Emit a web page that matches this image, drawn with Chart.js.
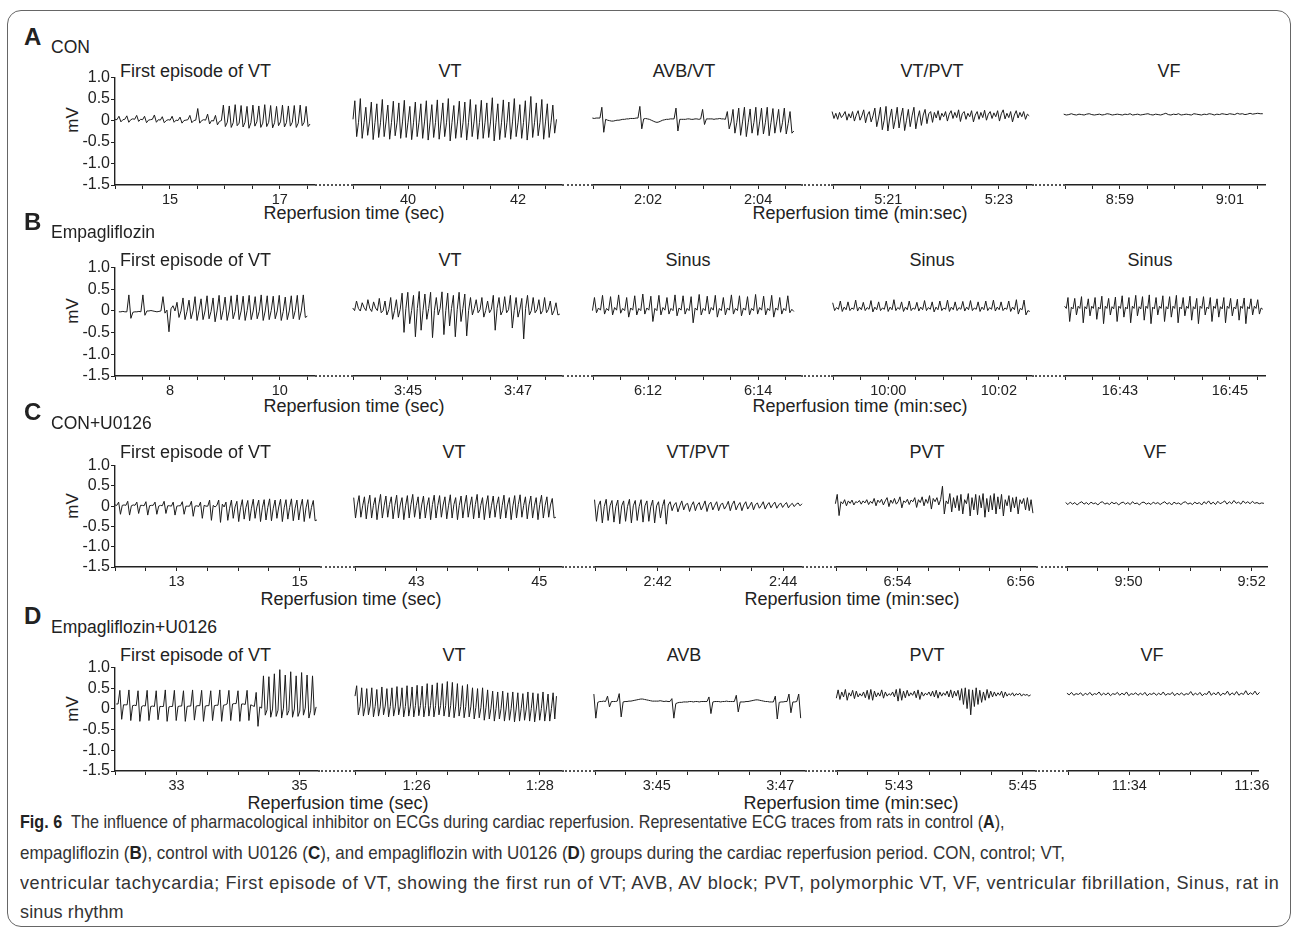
<!DOCTYPE html>
<html>
<head>
<meta charset="utf-8">
<title>Fig. 6 ECG traces</title>
<script src="https://cdn.jsdelivr.net/npm/chart.js@4.4.0/dist/chart.umd.min.js"></script>
<style>
  body { margin: 0; background: #fff; width: 1293px; height: 934px; position: relative; overflow: hidden;
         font-family: "Liberation Sans", Arial, sans-serif; color: #222; }
  .frame { position: absolute; left: 7px; top: 10px; width: 1282px; height: 915px;
           border: 1px solid #666; border-radius: 14px; }
  .txt { position: absolute; white-space: nowrap; line-height: 1; }
  .gap { position: absolute; height: 0; border-top: 2px dotted #555; }
  canvas { position: absolute; }
  .cap { position: absolute; left: 20px; white-space: nowrap; font-size: 19px; line-height: 1;
         transform-origin: left center; color: #333; }
  .cap b { color: #222; }
</style>
</head>
<body>
<div class="frame"></div>
<div id="root"></div>
<script>
// ---- data -------------------------------------------------------------

const PANELS = ['A', 'B', 'C', 'D'];
const GROUPS = ['CON', 'Empagliflozin', 'CON+U0126', 'Empagliflozin+U0126'];

const RHYTHMS_A = ['First episode of VT', 'VT', 'AVB/VT', 'VT/PVT', 'VF'];
const RHYTHMS_B = ['First episode of VT', 'VT', 'Sinus', 'Sinus', 'Sinus'];
const RHYTHMS_C = ['First episode of VT', 'VT', 'VT/PVT', 'PVT', 'VF'];
const RHYTHMS_D = ['First episode of VT', 'VT', 'AVB', 'PVT', 'VF'];

// visible stretch of each axis piece (seconds of reperfusion)
const WINDOWS_A = [[14, 17.64], [39, 42.8], [121, 124.78], [320, 323.6], [538, 541.64]];
const WINDOWS_B = [[7, 10.64], [224, 227.8], [371, 374.78], [599, 602.6], [1002, 1005.64]];
const WINDOWS_C = [[12, 15.33], [42, 45.37], [161, 164.3], [413, 416.25], [589, 592.25]];
const WINDOWS_D = [[32, 35.3], [85, 88.36], [224, 227.4], [342, 345.2], [693, 696.1]];

// recorded stretch of each trace (seconds), samples are spread evenly over it
const SPANS_A = [[14.0, 17.55], [39.0, 42.7], [120.85, 124.65], [319.95, 323.55], [537.93, 541.6]];
const SPANS_B = [[7.07, 10.5], [223.96, 227.76], [370.99, 374.65], [598.96, 602.56], [1001.9, 1005.6]];
const SPANS_C = [[12.0, 15.28], [41.95, 45.27], [160.9, 164.3], [412.93, 416.2], [588.94, 592.2]];
const SPANS_D = [[32.02, 35.27], [85.0, 88.27], [223.95, 227.33], [341.93, 345.13], [692.87, 696.2]];

// labelled ticks (seconds)
const LABELS_A = [[15, 17], [40, 42], [122, 124], [321, 323], [539, 541]];
const LABELS_B = [[8, 10], [225, 227], [372, 374], [600, 602], [1003, 1005]];
const LABELS_C = [[13, 15], [43, 45], [162, 164], [414, 416], [590, 592]];
const LABELS_D = [[33, 35], [86, 88], [225, 227], [343, 345], [694, 696]];

const Y_TICKS = [-1.5, -1.0, -0.5, 0, 0.5, 1.0];

// ECG samples, mV
const A_FIRST = [.03,.02,.1,-.03,.02, .03,.11,-.04,.02, .04,.03,.12,-.02,.03, .02,.1,-.05,.01, .02,.03,.13,-.04,.02,
  .01,.09,-.05,0, .02,.01,.1,-.04,.01, 0,.08,-.06,0, .01,.02,.12,-.05,0, .01,.28,-.06,0, .02,.01,.15,-.08,0,
  -.01,.12,-.1,-.02, 0,
  .36,-.14,-.04, .34,-.16,-.05, .37,-.12,-.06, .35,-.15,-.04, .33,-.18,-.05, .36,-.13,-.03, .34,-.16,-.06,
  .37,-.14,-.04, .35,-.17,-.05, .33,-.12,-.03, .36,-.15,-.05, .34,-.13,-.04, .35,-.16,-.06, .36,-.12,-.04, .33,-.14,-.08];
const A_VT = [.02, .45,-.38,-.05, .5,-.42,-.06, .3,-.35,-.04, .42,-.45,-.05, .38,-.4,-.06, .48,-.38,-.04, .35,-.44,-.05,
  .44,-.36,-.06, .4,-.42,-.04, .46,-.4,-.05, .32,-.45,-.06, .42,-.38,-.05, .38,-.42,-.04, .45,-.46,-.06, .36,-.4,-.05,
  .47,-.44,-.04, .4,-.38,-.06, .5,-.48,-.05, .34,-.42,-.04, .44,-.4,-.06, .42,-.46,-.05, .48,-.38,-.04, .36,-.44,-.05,
  .46,-.42,-.06, .4,-.4,-.04, .52,-.48,-.05, .38,-.45,-.06, .47,-.4,-.05, .42,-.44,-.04, .5,-.38,-.06, .36,-.42,-.05,
  .45,-.46,-.04, .55,-.4,-.06, .4,-.36,-.05, .48,-.44,-.04, .38,-.4,-.06, .35,-.3,.02];
const A_AVB_VT = [.05,.05,.06,.05,.05,.04,.05,.05,.05, .3,-.28,.02,
  0,-.01,-.02,-.02,-.01,0,0,.01,.02,.02,.03,.03,.04,.04,.04,.05,.05, .32,-.2,.03,
  .04,.03,.02,0,-.02,-.04,-.05,-.04,-.02,0,.01,.02,.02,.03,.03,.03, .28,-.25,.02,
  .02,.02,.02,.03,.03,.02,.02,.03,.03,.02,.03, .25,-.1,.03,
  .03,.03,.03,.02,.03,.03,.04,.03,.03,.02,
  .2,-.2,-.04, .25,-.3,-.05, .28,-.35,-.04, .3,-.38,-.06, .26,-.3,-.05, .3,-.35,-.04, .28,-.32,-.06,
  .3,-.36,-.05, .27,-.3,-.04, .25,-.28,-.06, .28,-.32,-.08, .2,-.3,-.25];
const A_VT_PVT = [.12,.2,.04,.16,.02,.18,.06,.12,.2,0,.15,.05,.2,-.02,.12,.22,0,.1,.24,-.06,.12,.2,-.04,.1,
  .28,-.15,.05,.3,-.22,0,.32,-.25,.05,.26,-.2,.02,.3,-.18,.08,.28,-.24,0,.25,-.15,.1,.3,-.2,.05,.22,-.12,.12,.25,-.08,.15,.2,-.05,
  .18,.05,.22,0,.16,.08,.2,-.02,.14,.22,.04,.18,.06,.24,-.03,.15,.2,.02,.16,.08,.22,-.04,.12,.2,.02,.18,.06,.23,0,.14,
  .2,.04,.17,.08,.22,-.02,.15,.24,.03,.16,.06,.2,-.04,.12,.22,.05,.18,.08,.2,.02,.14,.1];
const A_VF = [.13,.14,.12,.13,.15,.13,.12,.14,.13,.12,.14,.15,.13,.12,.13,.14,.12,.13,.15,.14,.12,.13,.14,.13,.12,.14,
  .13,.15,.12,.13,.14,.12,.13,.14,.15,.13,.12,.14,.13,.12,.14,.16,.13,.12,.14,.13,.15,.12,.13,.14,.13,.12,.15,.14,.13,
  .12,.14,.13,.15,.14,.12,.14,.13,.15,.14,.13,.15,.14,.13,.16,.14,.15,.13,.14,.16,.14,.15,.16,.15,.15];

const B_FIRST = [-.02,-.02,-.01,-.02,-.02, .37,-.17,-.03, -.02,-.02,-.01,-.02, .37,-.1,0, 0,.01,0,-.01,-.02,-.01,0,
  .33,-.05,.02, -.48,.05,.12,0,
  .2,-.15,0, .3,-.2,-.01, .25,-.18,0, .33,-.22,.01, .28,-.2,0, .35,-.18,-.01, .3,-.25,0, .36,-.2,.01, .32,-.22,0,
  .35,-.18,-.01, .37,-.2,0, .34,-.22,.01, .36,-.2,0, .33,-.18,-.01, .37,-.22,0, .35,-.2,.01, .34,-.18,0,
  .36,-.22,-.01, .32,-.2,0, .35,-.18,.01, .36,-.2,0, .37,-.15,-.12];
const B_VT = [.2,.06,0, .22,.05,-.01, .18,.07,0, .25,.05,-.02, .2,.06,0, .28,-.05,0, .22,-.1,.02, .3,-.2,0, .25,-.15,.03,
  .4,-.5,.05, .42,-.3,0, .35,-.6,.05, .44,-.45,0, .38,-.2,.05, .42,-.62,0, .3,-.1,.05, .43,-.55,0, .4,-.35,.05,
  .35,-.6,.02, .42,-.25,.05, .38,-.58,0, .3,-.1,.05,
  .25,-.05,.02, .3,-.15,0, .22,-.05,.03,
  .35,-.45,.05, .3,-.1,0, .32,-.05,.02, .35,-.4,0, .3,-.15,.03, .28,-.65,.05, .35,-.1,0, .3,-.05,.02,
  .25,-.08,0, .3,-.05,.03, .22,-.1,0, .18,-.1,-.08];
const B_SINUS1 = [0, .3,-.05,.06,.01, .35,-.08,.05,0, .32,-.1,.07,.01, .36,-.06,.05,0, .3,-.15,.06,.01, .34,-.1,.05,0,
  .38,-.08,.06,.01, .33,-.25,.05,0, .35,-.1,.07,.01, .3,-.08,.05,0, .36,-.12,.06,.01, .34,-.08,.05,0, .32,-.28,.06,.01,
  .37,-.1,.05,0, .33,-.08,.07,.01, .35,-.15,.05,0, .3,-.1,.06,.01, .36,-.08,.05,0, .34,-.12,.06,.01, .32,-.1,.05,0,
  .37,-.08,.07,.01, .33,-.1,.05,0, .35,-.15,.06,.01, .3,-.08,.05,0, .34,-.05,.03,-.02];
const B_SINUS2 = [.02, .18,0,.07,.03, .22,-.02,.08,.02, .2,0,.06,.03, .24,-.01,.08,.02, .19,0,.07,.03, .23,-.03,.08,.02,
  .2,0,.06,.03, .22,-.02,.08,.02, .25,0,.07,.03, .2,-.02,.08,.02, .22,0,.06,.03, .19,-.01,.08,.02, .23,0,.07,.03,
  .2,-.03,.08,.02, .22,0,.06,.03, .24,-.02,.08,.02, .2,0,.07,.03, .21,-.01,.08,.02, .23,0,.06,.03, .2,-.02,.08,.02,
  .22,0,.07,.03, .24,-.01,.08,.02, .2,0,.06,.03, .22,-.02,.08,.02, .25,-.08,.05,.02, .24,-.1,0,-.02];
const B_SINUS3 = [.05, .25,-.15,.1,.05, .3,-.25,.08,.04, .28,-.1,.1,.05, .32,-.28,.09,.04, .27,-.12,.1,.05, .3,-.2,.08,.04,
  .33,-.3,.1,.05, .28,-.1,.09,.04, .31,-.25,.1,.05, .34,-.15,.08,.04, .3,-.28,.1,.05, .35,-.12,.09,.04, .32,-.22,.1,.05,
  .36,-.3,.08,.04, .3,-.1,.1,.05, .34,-.25,.09,.04, .32,-.15,.1,.05, .35,-.28,.08,.04, .3,-.12,.1,.05, .33,-.22,.09,.04,
  .28,-.3,.1,.05, .32,-.1,.08,.04, .3,-.25,.1,.05, .27,-.15,.09,.04, .3,-.28,.1,.05, .28,-.12,.08,.04, .26,-.22,.1,.05,
  .29,-.3,.09,.04, .27,-.1,.1,.05, .25,-.08,.06,.03];

const C_FIRST = [.03, .02,.1,-.2,.02,.03, .02,.12,-.22,.01,.03, .02,.1,-.18,.02,.02, .01,.11,-.22,.01,.02, .02,.1,-.2,0,.02,
  .01,.12,-.18,.01,.01, 0,.1,-.22,0,.01, .01,.11,-.2,0,0, 0,.12,-.25,0,.01, -.01,.1,-.3,.02,0, 0,.15,-.35,.02,-.02,
  .02,.15,-.4,.05,-.02,
  .1,-.35,-.05, .15,-.3,-.02, .12,-.38,-.04, .16,-.32,-.03, .14,-.36,-.05, .17,-.3,-.02, .15,-.38,-.04, .16,-.34,-.03,
  .18,-.36,-.05, .15,-.3,-.02, .17,-.38,-.04, .16,-.32,-.03, .18,-.36,-.05, .15,-.34,-.02, .17,-.38,-.04, .16,-.3,-.03, .14,-.36,-.34];
const C_VT = [0, .2,-.3,.02, .25,-.28,0, .22,-.32,.03, .26,-.3,.01, .2,-.34,.02, .28,-.3,0, .24,-.28,.03, .22,-.32,.01,
  .26,-.3,.02, .2,-.34,0, .25,-.3,.03, .28,-.28,.01, .22,-.32,.02, .24,-.3,0, .2,-.34,.03, .26,-.3,.01, .25,-.28,.02,
  .22,-.32,0, .27,-.3,.03, .2,-.34,.01, .24,-.3,.02, .26,-.28,0, .22,-.32,.03, .28,-.3,.01, .2,-.34,.02, .25,-.3,0,
  .24,-.28,.03, .22,-.32,.01, .26,-.3,.02, .2,-.34,0, .25,-.3,.03, .27,-.28,.01, .22,-.32,.02, .24,-.3,0, .2,-.34,.03,
  .26,-.3,.01, .22,-.28,.02, .18,-.3,-.28];
const C_VT_PVT = [.12,-.4,-.02, .15,-.38,0, .12,-.42,-.02, .16,-.36,0, .13,-.4,-.02, .14,-.44,0, .12,-.38,-.02, .16,-.42,0,
  .13,-.36,-.02, .15,-.4,0, .12,-.38,-.02, .14,-.42,0, .1,-.3,-.02, .15,-.45,.02,
  .1,-.12,.02, .08,-.15,0, .12,-.1,.03, .06,-.14,.01, .1,-.12,.02, .08,-.1,0, .12,-.14,.03, .09,-.1,.01, .1,-.12,.02,
  .07,-.08,0, .11,-.12,.03, .12,-.1,.01, .08,-.12,.02, .1,-.08,0, .09,-.1,.03, .07,-.06,.01, .1,-.08,.02, .08,-.05,.03,
  .09,-.06,.02, .07,-.04,.03, .08,-.05,.02, .06,-.02,.04, .07,0,.05];
const C_PVT = [.08,.15,.05,.28,-.24,.1,.05,.15,0,.12,.06,.14,.02,.1,.08,.13,.04,.12,.07,.15,.03,.11,.06,.18,0,.14,.08,
  .16,.02,.12,.2,-.02,.14,.06,.18,.04,.1,.22,-.05,.12,.08,.16,.03,.14,.1,.2,-.04,.15,.08,.22,0,.16,.06,.25,-.08,.18,.1,
  .2,.02,.15,.48,-.2,.12,.05,.3,-.15,.2,-.05,.25,-.12,.28,-.2,.15,.05,.3,-.25,.2,-.1,.28,-.22,.25,-.05,.3,-.28,.18,-.15,
  .25,-.1,.3,-.2,.22,-.08,.28,-.25,.15,0,.25,-.15,.2,-.05,.22,-.2,.15,.05,.18,-.1,.2,-.12,.15,-.18];
const C_VF = [.06,.08,.03,.09,.04,.08,.02,.07,.1,.04,.08,.03,.09,.05,.07,.02,.08,.1,.04,.07,.03,.09,.05,.08,.02,.07,.09,
  .04,.08,.03,.1,.05,.07,.02,.08,.09,.04,.07,.03,.09,.05,.08,.03,.07,.1,.04,.08,.02,.09,.05,.07,.03,.08,.1,.04,.07,.03,
  .09,.05,.08,.02,.1,.05,.12,.04,.09,.03,.11,.05,.08,.12,.04,.1,.05,.13,.06,.09,.04,.12,.06,.1,.05,.11,.06,.08,.05,.07,.06];

const D_FIRST = [.12, .12,.45,-.25,.1,.1, .1,.46,-.28,.08,.09, .08,.44,-.3,.06,.08, .07,.45,-.28,.06,.07, .06,.44,-.26,.06,.06,
  .06,.46,-.3,.05,.06, .06,.45,-.28,.06,.07, .07,.44,-.3,.06,.07, .07,.46,-.27,.07,.08, .08,.45,-.3,.07,.08,
  .08,.44,-.28,.08,.09, .09,.46,-.3,.09,.1, .12,.45,-.28,.12,.13, .13,.44,-.3,.12,.12, .11,.45,-.28,.1,.08, .06,.4,-.42,.05,.02,
  .8,-.15,-.02, .78,-.2,0, .85,-.18,-.03, .95,-.22,.02, .82,-.15,-.04, .9,-.2,0, .8,-.18,-.05, .88,-.15,.02, .82,-.22,-.03, .8,-.15,.05];
const D_VT = [.3, .55,-.15,.05, .5,-.18,.04, .48,-.15,.06, .5,-.2,.05, .46,-.18,.04, .52,-.15,.06, .48,-.2,.05, .5,-.18,.04,
  .53,-.15,.06, .5,-.2,.05, .55,-.18,.06, .52,-.2,.07, .56,-.17,.08, .54,-.2,.07, .6,-.18,.08, .57,-.2,.07, .62,-.15,.08,
  .6,-.18,.07, .65,-.2,.08, .63,-.22,.06, .6,-.18,.05, .55,-.22,.05, .58,-.2,.04, .5,-.25,.03, .48,-.22,.02, .5,-.28,.02,
  .45,-.25,.01, .42,-.3,0, .4,-.25,0, .42,-.3,-.01, .38,-.28,0, .4,-.32,-.01, .38,-.3,0, .36,-.28,-.01, .4,-.3,0,
  .38,-.32,-.01, .36,-.28,0, .4,-.3,-.01, .35,-.3,0, .38,-.25,.3];
const D_AVB = [.17,.35,-.23,.15, .17,.17,.18,.17, .3,.04,.17, .17,.17,.18, .36,-.2,.16,
  .17,.17,.18,.18,.19,.2,.21,.22,.23,.23,.22,.21,.2,.19,.18,.18, .18,.18,.19,.18,.17,.18,.17,.17,
  .24,-.23,.12, .14,.15,.15,.16,.16,.16,.17,.17,.16,.17,.17,.16,.17,.17,.17,.17,
  .28,-.12,.16, .17,.17,.17,.16,.17,.17,.18,.17,.17,.17,.17, .32,-.08,.16,
  .16,.16,.17,.17,.18,.19,.2,.21,.21,.2,.19,.18,.17,.17,.16,.16,.16,
  .3,-.25,.15, .16,.16,.17,.17, .35,-.1,.16, .16,.17, .35,-.23];
const D_PVT = [.33,.42,.25,.45,.22,.4,.28,.46,.2,.38,.3,.44,.24,.42,.28,.36,.3,.4,.26,.44,.22,.46,.2,.42,.28,.38,.3,.45,
  .25,.4,.3,.36,.32,.4,.28,.46,.18,.48,.2,.42,.26,.44,.3,.38,.32,.42,.26,.45,.22,.4,.3,.37,.33,.4,.3,.42,.28,.44,.25,.4,
  .3,.38,.32,.42,.28,.45,.26,.42,.3,.44,.2,.48,.1,.5,0,.46,-.15,.45,.05,.5,.1,.44,.15,.4,.2,.46,.25,.42,.28,.4,.3,.38,
  .32,.42,.26,.4,.3,.36,.32,.38,.3,.36,.33,.37,.3,.35,.32,.34,.3,.33];
const D_VF = [.35,.38,.32,.37,.33,.39,.32,.36,.34,.38,.31,.37,.33,.39,.32,.36,.34,.4,.32,.37,.33,.38,.31,.36,.34,.39,.32,
  .37,.33,.4,.31,.36,.34,.38,.32,.37,.33,.39,.31,.36,.34,.38,.32,.37,.33,.4,.32,.36,.34,.39,.31,.37,.33,.38,.32,.36,.34,
  .41,.32,.37,.33,.39,.31,.36,.34,.42,.32,.38,.33,.4,.31,.37,.34,.42,.32,.38,.33,.41,.32,.37,.34,.43,.33,.38,.34,.42,.33,
  .39,.35,.36];

const DATA = {
  A: {rhythms: RHYTHMS_A, windows: WINDOWS_A, spans: SPANS_A, labels: LABELS_A, traces: [A_FIRST, A_VT, A_AVB_VT, A_VT_PVT, A_VF]},
  B: {rhythms: RHYTHMS_B, windows: WINDOWS_B, spans: SPANS_B, labels: LABELS_B, traces: [B_FIRST, B_VT, B_SINUS1, B_SINUS2, B_SINUS3]},
  C: {rhythms: RHYTHMS_C, windows: WINDOWS_C, spans: SPANS_C, labels: LABELS_C, traces: [C_FIRST, C_VT, C_VT_PVT, C_PVT, C_VF]},
  D: {rhythms: RHYTHMS_D, windows: WINDOWS_D, spans: SPANS_D, labels: LABELS_D, traces: [D_FIRST, D_VT, D_AVB, D_PVT, D_VF]},
};

// ---- layout (page pixels) ---------------------------------------------

const LAYOUT = {
  A: {top: 77, bottom: 185, letterY: 37, subY: 48, titleY: 71, axisTitleY: 213,
      x: [[115, 315], [353, 562], [593, 801], [833, 1032], [1065, 1265]], titleX: [120, 450, 684, 932, 1169], axisTitleX: [354, 860]},
  B: {top: 267, bottom: 376, letterY: 222, subY: 233, titleY: 260, axisTitleY: 406,
      x: [[115, 315], [353, 562], [593, 801], [833, 1032], [1065, 1265]], titleX: [120, 450, 688, 932, 1150], axisTitleX: [354, 860]},
  C: {top: 465, bottom: 567, letterY: 412, subY: 424, titleY: 452, axisTitleY: 599,
      x: [[115, 320], [355, 562], [595, 802], [836, 1036], [1067, 1267]], titleX: [120, 454, 698, 927, 1155], axisTitleX: [351, 852]},
  D: {top: 667, bottom: 771, letterY: 616, subY: 628, titleY: 655, axisTitleY: 803,
      x: [[115, 318], [355, 562], [595, 805], [837, 1035], [1068, 1258]], titleX: [120, 454, 684, 927, 1152], axisTitleX: [338, 851]},
};
const PAD = 24, PAD_TOP = 10, X_AXIS_H = 26;
const INK = '#1c1c1c';
const CAPTION_Y = [822, 853, 883, 912];
const CAPTION_END = [1005, 1065, 1280, 124];
const CAPTION_SQUEEZE = 0.95;

Chart.defaults.font.family = '"Liberation Sans", Arial, sans-serif';
Chart.defaults.font.size = 14;
Chart.defaults.color = '#222';

const root = document.getElementById('root');

function timeLabel(t) {
  if (t < 60) return String(t);
  return Math.floor(t / 60) + ':' + String(t % 60).padStart(2, '0');
}

function addText(html, x, y, size, opts = {}) {
  const d = document.createElement('div');
  d.className = 'txt';
  d.innerHTML = html;
  d.style.left = x + 'px';
  d.style.top = y + 'px';
  d.style.fontSize = size + 'px';
  if (opts.bold) d.style.fontWeight = 'bold';
  let tf = opts.center ? 'translate(-50%,-50%)' : 'translateY(-50%)';
  if (opts.rotate) tf += ' rotate(-90deg)';
  d.style.transform = tf;
  root.appendChild(d);
}

function segmentChart(key, i) {
  const data = DATA[key], box = LAYOUT[key];
  const [x0, x1] = box.x[i];
  const first = i === 0;
  const left = first ? 0 : x0 - PAD;
  const width = x1 - left + PAD;
  const height = box.bottom - box.top + PAD_TOP + X_AXIS_H;

  const canvas = document.createElement('canvas');
  canvas.width = width;
  canvas.height = height;
  canvas.style.left = left + 'px';
  canvas.style.top = (box.top - PAD_TOP) + 'px';
  root.appendChild(canvas);

  const [t0, t1] = data.windows[i];
  const [s0, s1] = data.spans[i];
  const trace = data.traces[i];
  const labels = data.labels[i];
  const points = trace.map((v, k) => ({x: s0 + k * (s1 - s0) / (trace.length - 1), y: v}));

  const yScale = {
    display: first,
    min: -1.5, max: 1.0,
    afterBuildTicks: s => { s.ticks = Y_TICKS.map(v => ({value: v})); },
    ticks: {autoSkip: false, padding: 1, color: '#222', font: {size: 16},
            callback: v => v === 0 ? '0' : v.toFixed(1)},
    grid: {drawOnChartArea: false, drawTicks: true, tickLength: 4, color: '#222', tickWidth: 1},
    border: {display: true, color: '#222', width: 1.4},
  };
  if (first) yScale.afterFit = s => { s.width = x0 - left; };

  new Chart(canvas, {
    type: 'line',
    data: {datasets: [{data: points, borderColor: INK, borderWidth: 1, pointRadius: 0, tension: 0, clip: false}]},
    options: {
      responsive: false,
      animation: false,
      events: [],
      layout: {padding: {left: first ? 0 : PAD, right: PAD, top: PAD_TOP, bottom: 0}},
      plugins: {legend: {display: false}, tooltip: {enabled: false}},
      scales: {
        x: {
          type: 'linear', min: t0, max: t1,
          afterBuildTicks: s => {
            const ticks = [];
            for (let t = Math.ceil(t0 * 2) / 2; t <= t1 + 1e-9; t += 0.5) ticks.push({value: t});
            s.ticks = ticks;
          },
          afterFit: s => { s.height = X_AXIS_H; s.paddingLeft = 0; s.paddingRight = 0; },
          ticks: {autoSkip: false, maxRotation: 0, minRotation: 0, padding: 2, color: '#222',
                  font: {size: 14.5}, callback: v => labels.includes(v) ? timeLabel(v) : ''},
          grid: {drawOnChartArea: false, drawTicks: true, tickLength: 4, color: '#222', tickWidth: 1},
          border: {display: true, color: '#222', width: 1.6},
        },
        y: yScale,
      },
    },
  });
}

PANELS.forEach((key, p) => {
  const box = LAYOUT[key], data = DATA[key];
  const zeroY = box.top + (box.bottom - box.top) * 0.4;
  addText(key, 24, box.letterY, 24, {bold: true});
  addText(GROUPS[p], 51, box.subY, 17.5);
  addText('mV', 72, zeroY, 17, {center: true, rotate: true});

  data.rhythms.forEach((name, i) => {
    if (i === 0) addText(name, box.titleX[0], box.titleY, 18);
    else addText(name, box.titleX[i], box.titleY, 18, {center: true});
  });
  addText('Reperfusion time (sec)', box.axisTitleX[0], box.axisTitleY, 18, {center: true});
  addText('Reperfusion time (min:sec)', box.axisTitleX[1], box.axisTitleY, 18, {center: true});

  for (let i = 0; i < 5; i++) segmentChart(key, i);

  for (let i = 0; i < 4; i++) {
    const g = document.createElement('div');
    g.className = 'gap';
    g.style.left = box.x[i][1] + 'px';
    g.style.width = (box.x[i + 1][0] - box.x[i][1]) + 'px';
    g.style.top = (box.bottom - 1) + 'px';
    root.appendChild(g);
  }
});

// caption: one condensed face for all lines, spacing opened up where the figure's line runs longer
const CAPTION = [
  '<b>Fig. 6</b>&nbsp;&nbsp;The influence of pharmacological inhibitor on ECGs during cardiac reperfusion. Representative ECG traces from rats in control (<b>A</b>),',
  'empagliflozin (<b>B</b>), control with U0126 (<b>C</b>), and empagliflozin with U0126 (<b>D</b>) groups during the cardiac reperfusion period. CON, control; VT,',
  'ventricular tachycardia; First episode of VT, showing the first run of VT; AVB, AV block; PVT, polymorphic VT, VF, ventricular fibrillation, Sinus, rat in',
  'sinus rhythm',
];
CAPTION.forEach((line, k) => {
  const d = document.createElement('div');
  d.className = 'cap';
  d.innerHTML = line;
  d.style.top = (CAPTION_Y[k] - 10) + 'px';
  root.appendChild(d);
  const natural = d.scrollWidth;
  const target = CAPTION_END[k] - 20;
  const squeeze = Math.min(CAPTION_SQUEEZE, target / natural);
  const extra = target / squeeze - natural;
  if (extra > 0) d.style.letterSpacing = (extra / d.textContent.length).toFixed(3) + 'px';
  d.style.transform = 'scaleX(' + squeeze.toFixed(4) + ')';
});
</script>
</body>
</html>
